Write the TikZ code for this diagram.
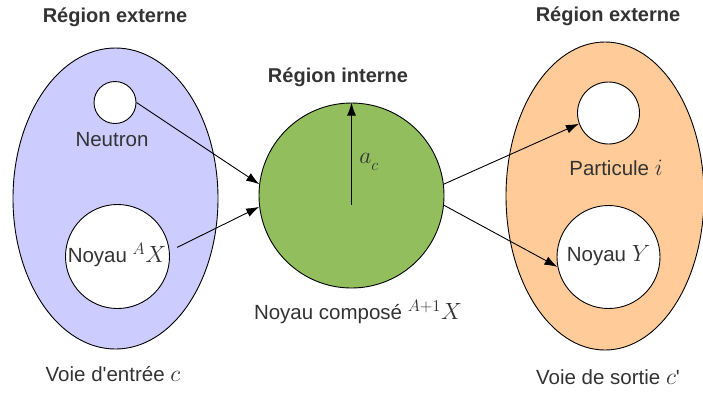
\RequirePackage{fix-cm}
\documentclass[tikz,border=0pt]{standalone}
\usepackage{fontspec}
\setmainfont{Liberation Sans}
\usetikzlibrary{shapes.geometric,arrows.meta}
\definecolor{txt}{HTML}{333333}
\definecolor{lav}{HTML}{CCCCFF}
\definecolor{grn}{HTML}{92BE5E}
\definecolor{peach}{HTML}{FFCC99}
\newcommand\mymath[1]{{\fontsize{23.5}{28}\selectfont$#1$}}
\tikzset{
  lbl/.style={text=txt,inner sep=0pt,font=\fontsize{20.5}{24}\selectfont},
  hdr/.style={text=txt,inner sep=0pt,font=\fontsize{20}{24}\selectfont\bfseries},
  region/.style={ellipse,draw=black,line width=0.9pt,inner sep=0pt},
  ball/.style={circle,draw=black,fill=white,line width=0.9pt,inner sep=0pt},
  conn/.style={line width=0.9pt,-{Latex[length=13pt,width=9pt]}}
}
\begin{document}
\begin{tikzpicture}[x=1pt,y=-1pt]
\useasboundingbox (0,0) rectangle (703,392);
% left region
\node[region,fill=lav,minimum width=205,minimum height=301] (left) at (115.5,198.5) {};
\node[ball,minimum size=42] (neutron) at (115,102.5) {};
\node[ball,minimum size=104] (noyA) at (117.5,256.5) {};
\node[lbl] (noyAlbl) at (117,255) {Noyau \mymath{{}^{A}X}};
\node[lbl] (neutronlbl) at (112,140) {Neutron};
\node[hdr] (hL) at (115,17) {Région externe};
\node[lbl] (voieE) at (113,374) {Voie d\textquotesingle entrée \mymath{c}};
% center
\node[circle,draw=black,fill=grn,line width=0.9pt,minimum size=185,inner sep=0pt] (core) at (351.5,195.5) {};
\coordinate (c0) at (351.5,205);
\node[hdr] (hI) at (338,77) {Région interne};
\node[lbl] (ac) at (369,162) {\mymath{a_{\lower4pt\hbox{$\scriptstyle c$}}}};
\node[lbl] (comp) at (358,312) {Noyau composé \mymath{{}^{A+1}X}};
% right region
\node[region,fill=peach,minimum width=198,minimum height=308] (right) at (605,196) {};
\node[ball,minimum size=62] (part) at (608.5,113) {};
\node[ball,minimum size=103] (noyY) at (608.5,257) {};
\node[lbl] (noyYlbl) at (608.5,256) {Noyau \mymath{Y}};
\node[lbl] (partlbl) at (616,168) {Particule \mymath{i}};
\node[hdr] (hR) at (608,16) {Région externe};
\node[lbl] (voieS) at (608,377) {Voie de sortie \mymath{c}\textquotesingle};
% connectors
\draw[conn] (c0) -- (core.north);
\draw[conn] (neutron.east) -- (core.173.5);
\draw[conn] ([xshift=8pt]noyA.10) -- (core.187.7);
\draw[conn] (core.7.6) -- (part.200);
\draw[conn] (core.354) -- (noyY.191);
\end{tikzpicture}
\end{document}
